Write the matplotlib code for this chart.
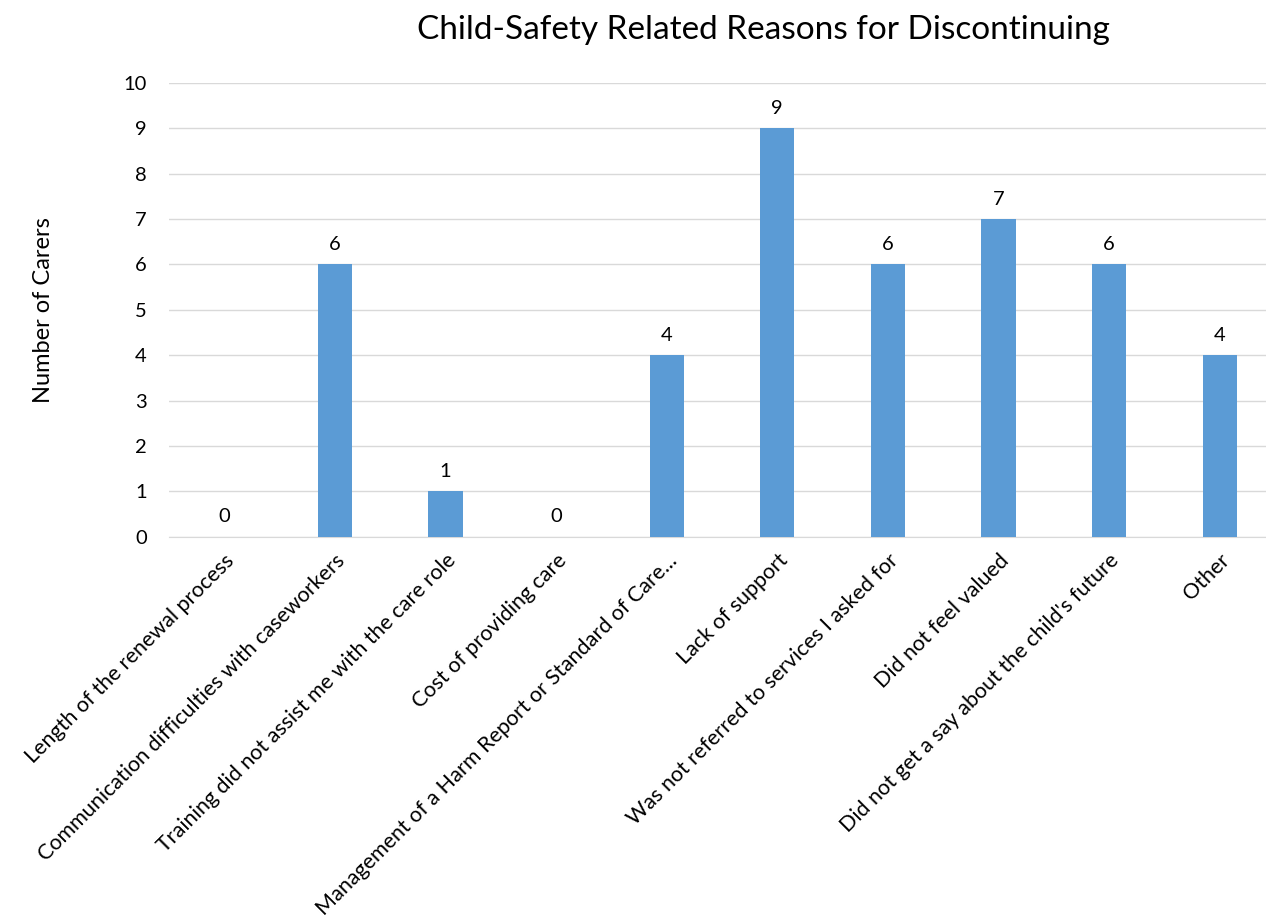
import matplotlib
matplotlib.use("Agg")
import matplotlib.pyplot as plt

categories = [
    "Length of the renewal process",
    "Communication difficulties with caseworkers",
    "Training did not assist me with the care role",
    "Cost of providing care",
    "Management of a Harm Report or Standard of Care...",
    "Lack of support",
    "Was not referred to services I asked for",
    "Did not feel valued",
    "Did not get a say about the child's future",
    "Other",
]
counts = [0, 6, 1, 0, 4, 9, 6, 7, 6, 4]

plt.rcParams['font.family'] = ['Lato', 'DejaVu Sans']

fig = plt.figure(figsize=(12.66, 9.22), dpi=100)
ax = fig.add_axes([0.1335, 0.418, 0.8736, 0.492])

x = range(len(categories))
bars = ax.bar(x, counts, width=0.31, color="#5B9BD5", zorder=3)
for xi, v in zip(x, counts):
    ax.text(xi, v + 0.25, str(v), ha="center", va="bottom", fontsize=14.5)

ax.set_xlim(-0.5, len(categories) - 0.5)
ax.set_ylim(0, 10)
ax.set_yticks(range(11))
ax.grid(axis="y", color="#D9D9D9", linewidth=1, zorder=0)
for s in ["top", "right", "left"]:
    ax.spines[s].set_visible(False)
ax.spines["bottom"].set_color("#D9D9D9")
ax.tick_params(axis="y", length=0, labelsize=14.5, pad=16)
ax.tick_params(axis="x", length=0, labelsize=15.5, pad=10)
ax.set_xticks(list(x))
ax.set_xticklabels(categories, rotation=45, ha="right", rotation_mode="anchor")
ax.set_ylabel("Number of Carers", fontsize=17, labelpad=50)
fig.text(0.603, 0.967, "Child-Safety Related Reasons for Discontinuing",
         ha="center", va="center", fontsize=24)

fig.savefig("out.png", dpi=100)
